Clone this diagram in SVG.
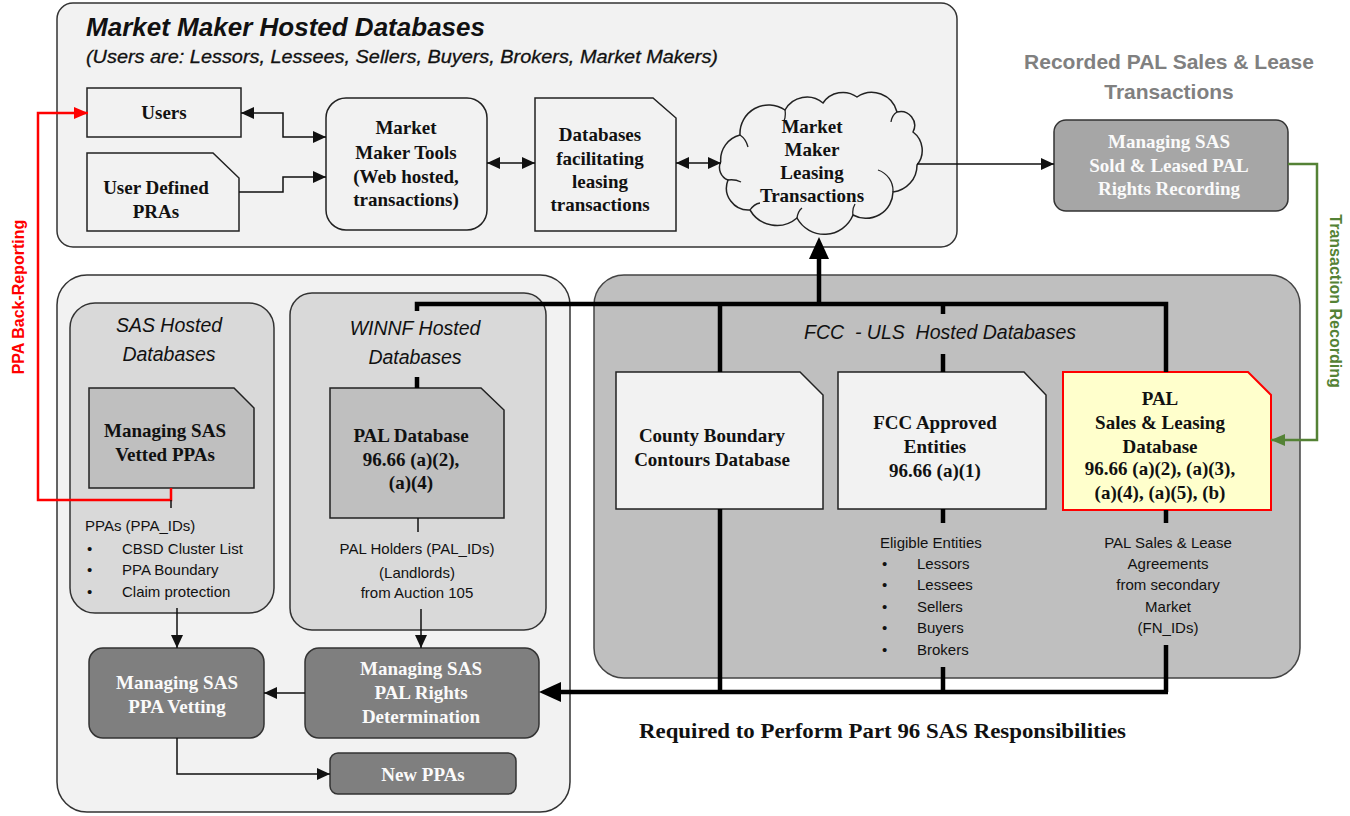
<svg xmlns="http://www.w3.org/2000/svg" width="1350" height="816" viewBox="0 0 1350 816">
<style>
.cont{stroke:#333;stroke-width:1.5}
.box{stroke:#222;stroke-width:1.5}
.sf{font-family:"Liberation Serif","Times New Roman",serif;font-weight:bold;font-size:19px;text-anchor:middle;fill:#111}
.wt{fill:#fafafa}
.it{font-family:"Liberation Sans",Arial,sans-serif;font-style:italic;font-size:19.5px;text-anchor:middle;fill:#111}
.sm{font-family:"Liberation Sans",Arial,sans-serif;font-size:15px;fill:#111}
.smc{text-anchor:middle}
.ln{stroke:#111;stroke-width:1.5;fill:none}
.bus{stroke:#000;stroke-width:4.5;fill:none}
</style>
<defs>
<marker id="ah" viewBox="0 0 13 12" refX="13" refY="6" markerWidth="13" markerHeight="12" markerUnits="userSpaceOnUse" orient="auto-start-reverse"><path d="M0,0 L13,6 L0,12 z" fill="#111"/></marker>
<marker id="big" viewBox="0 0 22 20" refX="1" refY="10" markerWidth="22" markerHeight="20" markerUnits="userSpaceOnUse" orient="auto"><path d="M0,0 L22,10 L0,20 z" fill="#000"/></marker>
<marker id="red" viewBox="0 0 14 12" refX="14" refY="6" markerWidth="14" markerHeight="12" markerUnits="userSpaceOnUse" orient="auto"><path d="M0,0 L14,6 L0,12 z" fill="#ff0000"/></marker>
<marker id="grn" viewBox="0 0 14 12" refX="14" refY="6" markerWidth="14" markerHeight="12" markerUnits="userSpaceOnUse" orient="auto"><path d="M0,0 L14,6 L0,12 z" fill="#548235"/></marker>
</defs>

<!-- containers -->
<g id="market-maker-container">
<rect x="57" y="3" width="900" height="244" rx="16" fill="#f2f2f2" class="cont"/>
<text x="86" y="36" font-family="Liberation Sans, Arial, sans-serif" font-weight="bold" font-style="italic" font-size="25" textLength="399" lengthAdjust="spacingAndGlyphs" fill="#111">Market Maker Hosted Databases</text>
<text x="86" y="63" font-family="Liberation Sans, Arial, sans-serif" font-style="italic" font-size="19" textLength="632" lengthAdjust="spacingAndGlyphs" fill="#111" stroke="#111" stroke-width="0.3">(Users are: Lessors, Lessees, Sellers, Buyers, Brokers, Market Makers)</text>
</g>
<g id="recorded-title">
<text x="1169" y="69" font-family="Liberation Sans, Arial, sans-serif" font-weight="bold" font-size="21" text-anchor="middle" fill="#808080">Recorded PAL Sales &amp; Lease</text>
<text x="1169" y="99" font-family="Liberation Sans, Arial, sans-serif" font-weight="bold" font-size="21" text-anchor="middle" fill="#808080">Transactions</text>
</g>
<g id="sas-side-container">
<rect x="57" y="275" width="513" height="537" rx="30" fill="#f2f2f2" class="cont"/>
</g>
<g id="sas-hosted">
<rect x="70" y="303" width="204" height="310" rx="25" fill="#d9d9d9" class="cont"/>
<text class="it" x="169" y="332">SAS Hosted</text>
<text class="it" x="169" y="361">Databases</text>
</g>
<g id="winnf-hosted">
<rect x="290" y="293" width="256" height="337" rx="22" fill="#d9d9d9" class="cont"/>
<text class="it" x="415" y="335">WINNF Hosted</text>
<text class="it" x="415" y="364">Databases</text>
</g>
<g id="fcc-uls">
<rect x="594" y="275" width="706" height="403" rx="30" fill="#bfbfbf" stroke="#444" stroke-width="1.5"/>
<text class="it" x="940" y="339" xml:space="preserve">FCC  - ULS  Hosted Databases</text>
</g>

<!-- nodes -->
<g id="users">
<rect x="87" y="88" width="154" height="49" fill="#f2f2f2" class="box"/>
<text class="sf" x="164" y="119">Users</text>
</g>
<g id="user-defined-pras">
<path d="M87,153 H213 L239,178 V231 H87 Z" fill="#f2f2f2" class="box"/>
<text class="sf" x="156" y="194">User Defined</text>
<text class="sf" x="156" y="218">PRAs</text>
</g>
<g id="market-maker-tools">
<rect x="326" y="98" width="161" height="132" rx="20" fill="#f2f2f2" class="box"/>
<text class="sf" x="406" y="134">Market</text>
<text class="sf" x="406" y="159">Maker Tools</text>
<text class="sf" x="406" y="183">(Web hosted,</text>
<text class="sf" x="406" y="206">transactions)</text>
</g>
<g id="databases-facilitating">
<path d="M535,98 H653 L676,118 V231 H535 Z" fill="#f2f2f2" class="box"/>
<text class="sf" x="600" y="141">Databases</text>
<text class="sf" x="600" y="165">facilitating</text>
<text class="sf" x="600" y="188">leasing</text>
<text class="sf" x="600" y="211">transactions</text>
</g>
<g id="leasing-transactions-cloud">
<path d="M720.7,161.7 A25.7,25.7 0 0 1 740,135 A28.7,28.7 0 0 1 785,110 A25,25 0 0 1 823,103 A24,24 0 0 1 857,97 A26,26 0 0 1 897,112 A14,14 0 0 1 913,132 A23,23 0 0 1 917,165 A27,27 0 0 1 893,192 A27,27 0 0 1 853,215 A31,31 0 0 1 797,218 A31,31 0 0 1 750,210 A22,22 0 0 1 728,180 A13.6,13.6 0 0 1 720.7,161.7 Z" fill="#f2f2f2" class="box"/>
<path d="M740,135 q6,4 8,12 M785,110 q1,6 -1,11 M897,112 q-5,3 -6,10 M878,170 a22,22 0 0 1 15,22 M853,215 q-1,-6 2,-11 M797,218 q1,-7 5,-10 M750,210 q4,-6 10,-7 M728,180 q7,-1 13,2" fill="none" stroke="#222" stroke-width="1.3"/>
<text class="sf" x="812" y="133">Market</text>
<text class="sf" x="812" y="156">Maker</text>
<text class="sf" x="812" y="179">Leasing</text>
<text class="sf" x="812" y="202">Transactions</text>
</g>
<g id="sold-leased-recording">
<rect x="1054" y="120" width="234" height="91" rx="12" fill="#a6a6a6" stroke="#333" stroke-width="1.5"/>
<text class="sf wt" x="1169" y="148">Managing SAS</text>
<text class="sf wt" x="1169" y="172">Sold &amp; Leased PAL</text>
<text class="sf wt" x="1169" y="195">Rights Recording</text>
</g>
<g id="vetted-ppas">
<path d="M89,388 H234 L254,408 V488 H89 Z" fill="#bfbfbf" class="box"/>
<text class="sf" x="165" y="437">Managing SAS</text>
<text class="sf" x="165" y="461">Vetted PPAs</text>
<text class="sm" x="85" y="531">PPAs (PPA_IDs)</text>
<text class="sm" x="87" y="554">•</text><text class="sm" x="122" y="554">CBSD Cluster List</text>
<text class="sm" x="87" y="575">•</text><text class="sm" x="122" y="575">PPA Boundary</text>
<text class="sm" x="87" y="597">•</text><text class="sm" x="122" y="597">Claim protection</text>
</g>
<g id="pal-database">
<path d="M330,388 H481 L504,410 V518 H330 Z" fill="#bfbfbf" class="box"/>
<text class="sf" x="411" y="442">PAL Database</text>
<text class="sf" x="411" y="466">96.66 (a)(2),</text>
<text class="sf" x="411" y="489">(a)(4)</text>
<text class="sm smc" x="417" y="554">PAL Holders (PAL_IDs)</text>
<text class="sm smc" x="417" y="578">(Landlords)</text>
<text class="sm smc" x="417" y="598">from Auction 105</text>
</g>
<g id="county-boundary">
<path d="M616,372 H800 L823,395 V509 H616 Z" fill="#f2f2f2" class="box"/>
<text class="sf" x="712" y="442">County Boundary</text>
<text class="sf" x="712" y="466">Contours Database</text>
</g>
<g id="fcc-approved">
<path d="M838,372 H1024 L1046,395 V509 H838 Z" fill="#f2f2f2" class="box"/>
<text class="sf" x="935" y="429">FCC Approved</text>
<text class="sf" x="935" y="453">Entities</text>
<text class="sf" x="935" y="477">96.66 (a)(1)</text>
<text class="sm" x="880" y="548">Eligible Entities</text>
<text class="sm" x="882" y="569">•</text><text class="sm" x="917" y="569">Lessors</text>
<text class="sm" x="882" y="590">•</text><text class="sm" x="917" y="590">Lessees</text>
<text class="sm" x="882" y="612">•</text><text class="sm" x="917" y="612">Sellers</text>
<text class="sm" x="882" y="633">•</text><text class="sm" x="917" y="633">Buyers</text>
<text class="sm" x="882" y="655">•</text><text class="sm" x="917" y="655">Brokers</text>
</g>
<g id="pal-sales-leasing">
<path d="M1063,372 H1248 L1271,395 V510 H1063 Z" fill="#ffffcc" stroke="#ff0000" stroke-width="2"/>
<text class="sf" x="1160" y="405">PAL</text>
<text class="sf" x="1160" y="429">Sales &amp; Leasing</text>
<text class="sf" x="1160" y="453">Database</text>
<text class="sf" x="1160" y="475">96.66 (a)(2), (a)(3),</text>
<text class="sf" x="1160" y="499">(a)(4), (a)(5), (b)</text>
<text class="sm smc" x="1168" y="548">PAL Sales &amp; Lease</text>
<text class="sm smc" x="1168" y="569">Agreements</text>
<text class="sm smc" x="1168" y="590">from secondary</text>
<text class="sm smc" x="1168" y="612">Market</text>
<text class="sm smc" x="1168" y="633">(FN_IDs)</text>
</g>
<g id="ppa-vetting">
<rect x="89" y="648" width="175" height="90" rx="14" fill="#7f7f7f" stroke="#333" stroke-width="1.5"/>
<text class="sf wt" x="177" y="689">Managing SAS</text>
<text class="sf wt" x="177" y="713">PPA Vetting</text>
</g>
<g id="pal-rights-determination">
<rect x="305" y="648" width="234" height="90" rx="14" fill="#7f7f7f" stroke="#333" stroke-width="1.5"/>
<text class="sf wt" x="421" y="675">Managing SAS</text>
<text class="sf wt" x="421" y="699">PAL Rights</text>
<text class="sf wt" x="421" y="723">Determination</text>
</g>
<g id="new-ppas">
<rect x="330" y="753" width="186" height="41" rx="8" fill="#7f7f7f" stroke="#333" stroke-width="1.5"/>
<text class="sf wt" x="423" y="781">New PPAs</text>
</g>
<g id="required-label">
<text x="639" y="738" font-family="Liberation Serif, Times New Roman, serif" font-weight="bold" font-size="22" textLength="487" lengthAdjust="spacingAndGlyphs" fill="#111">Required to Perform Part 96 SAS Responsibilities</text>
</g>
<g id="side-labels">
<text transform="translate(24,297) rotate(-90)" text-anchor="middle" font-family="Liberation Sans, Arial, sans-serif" font-weight="bold" font-size="16" fill="#ff0000">PPA Back-Reporting</text>
<text transform="translate(1330,301) rotate(90)" text-anchor="middle" font-family="Liberation Sans, Arial, sans-serif" font-weight="bold" font-size="16" fill="#548235">Transaction Recording</text>
</g>

<!-- connectors -->
<g id="connectors">
<path class="ln" d="M241,113 H283 V137 H326" marker-start="url(#ah)" marker-end="url(#ah)"/>
<path class="ln" d="M239,192 H283 V177 H326" marker-end="url(#ah)"/>
<path class="ln" d="M487,163 H535" marker-start="url(#ah)" marker-end="url(#ah)"/>
<path class="ln" d="M676,163 H721" marker-start="url(#ah)" marker-end="url(#ah)"/>
<path class="ln" d="M917,164 H1054" marker-end="url(#ah)"/>
<path d="M1288,164 H1317 V440 H1271" fill="none" stroke="#548235" stroke-width="2.5" marker-end="url(#grn)"/>
<path d="M171,488 V500 H38 V113 H88" fill="none" stroke="#ff0000" stroke-width="2.5" marker-end="url(#red)"/>
<path class="ln" d="M171,500 V508" stroke-width="1"/>
<path class="ln" d="M418,518 V532" stroke-width="1"/>
<path class="bus" d="M417,311 V304 H1166 V372"/>
<path class="bus" d="M720,304 V372 M943,304 V314 M943,354 V372 M417,377 V388"/>
<path class="bus" d="M819,304 V258" marker-end="url(#big)"/>
<path class="bus" d="M720,509 V692 M943,509 V523 M943,667 V692 M1166,510 V523 M1166,645 V692"/>
<path class="bus" d="M1168,692 H560" marker-end="url(#big)"/>
<path class="ln" d="M177,608 V648" marker-end="url(#ah)"/>
<path class="ln" d="M421,609 V648" marker-end="url(#ah)"/>
<path class="ln" d="M305,693 H264" marker-end="url(#ah)"/>
<path class="ln" d="M177,738 V774 H330" marker-end="url(#ah)"/>
</g>
</svg>
